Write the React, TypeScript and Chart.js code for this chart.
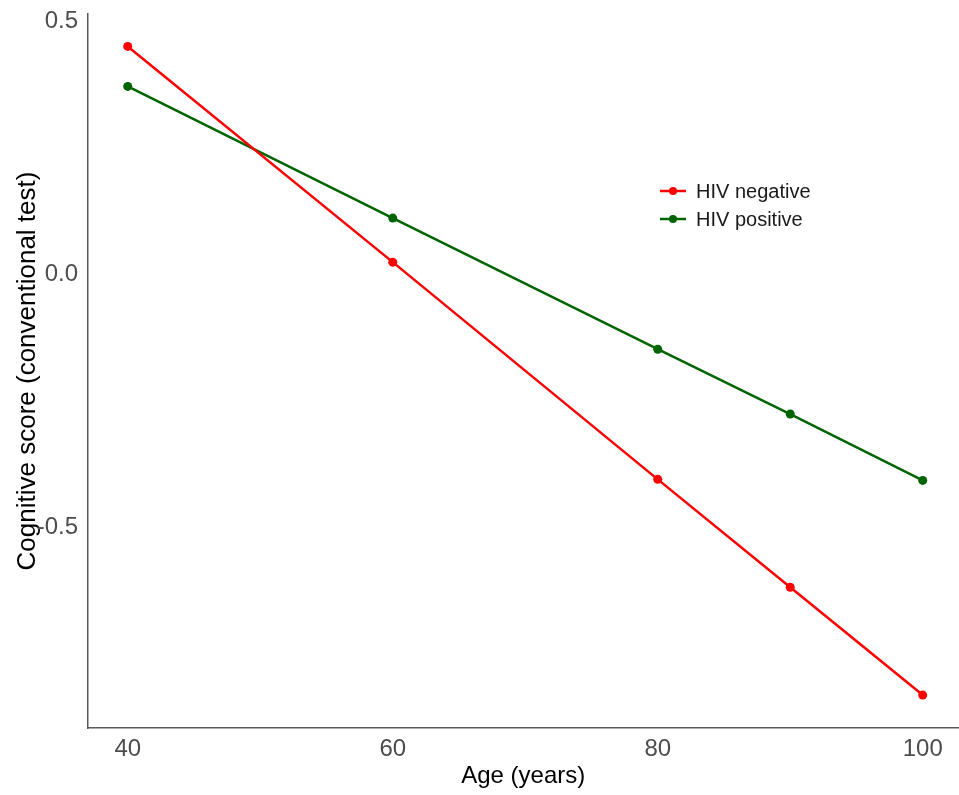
import React, { useEffect, useRef } from "react";
import { Chart, registerables } from "chart.js";

Chart.register(...registerables);

const ages = [40, 60, 80, 90, 100];
const hivNegative = [0.45, 0.024, -0.405, -0.618, -0.831];
const hivPositive = [0.371, 0.111, -0.148, -0.276, -0.407];
const seriesNames = ["HIV negative", "HIV positive"];
const seriesColors = ["#FF0000", "#006400"];
const xTicks = [40, 60, 80, 100];
const yTicks = [-0.5, 0, 0.5];
const xTitle = "Age (years)";
const yTitle = "Cognitive score (conventional test)";

const FONT = "Arial, 'Liberation Sans', Helvetica, sans-serif";

const legendPlugin = {
  id: "customLegend",
  afterDraw(chart: any) {
    const ctx = chart.ctx;
    ctx.save();
    chart.data.datasets.forEach((ds: any, i: number) => {
      const y = 191 + i * 28;
      ctx.strokeStyle = ds.borderColor;
      ctx.lineWidth = 2.5;
      ctx.beginPath();
      ctx.moveTo(660, y);
      ctx.lineTo(686, y);
      ctx.stroke();
      ctx.fillStyle = ds.borderColor;
      ctx.beginPath();
      ctx.arc(673, y, 4, 0, Math.PI * 2);
      ctx.fill();
      ctx.fillStyle = "#1a1a1a";
      ctx.font = `20px ${FONT}`;
      ctx.textBaseline = "middle";
      ctx.textAlign = "left";
      ctx.fillText(ds.label, 696, y + 1);
    });
    ctx.restore();
  },
};

const zeroPad = (s: any) => {
  s.paddingTop = 0;
  s.paddingBottom = 0;
  s.paddingLeft = 0;
  s.paddingRight = 0;
};

export default function App() {
  const ref = useRef<HTMLCanvasElement>(null);
  useEffect(() => {
    if (!ref.current) return;
    const mk = (vals: number[]) => ages.map((a, i) => ({ x: a, y: vals[i] }));
    const chart = new Chart(ref.current, {
      type: "line",
      data: {
        datasets: [hivNegative, hivPositive].map((vals, i) => ({
          label: seriesNames[i],
          data: mk(vals),
          borderColor: seriesColors[i],
          backgroundColor: seriesColors[i],
          borderWidth: 2.5,
          pointRadius: 4.5,
          pointHoverRadius: 4.5,
          pointBorderWidth: 0,
          tension: 0,
          fill: false,
        })),
      },
      options: {
        responsive: false,
        animation: false,
        layout: { padding: { top: 14, right: 1, left: 0, bottom: 0 } },
        plugins: { legend: { display: false }, tooltip: { enabled: false } },
        scales: {
          x: {
            type: "linear",
            min: 37,
            max: 102.7,
            grid: { display: false, drawTicks: false },
            border: { display: true, color: "#595959", width: 1.5 },
            afterBuildTicks: (s: any) => {
              s.ticks = xTicks.map((v) => ({ value: v }));
            },
            afterFit: (s: any) => {
              s.height = 67;
              zeroPad(s);
            },
            ticks: {
              color: "#4D4D4D",
              font: { family: FONT, size: 24 },
              padding: 7,
              maxRotation: 0,
              callback: (v: any) => String(v),
            },
            title: {
              display: true,
              text: xTitle,
              color: "#000000",
              font: { family: FONT, size: 24 },
              padding: { top: 0, bottom: 4 },
            },
          },
          y: {
            type: "linear",
            min: -0.896,
            max: 0.514,
            grid: { display: false, drawTicks: false },
            border: { display: true, color: "#595959", width: 1.5 },
            afterBuildTicks: (s: any) => {
              s.ticks = yTicks.map((v) => ({ value: v }));
            },
            afterFit: (s: any) => {
              s.width = 88;
              zeroPad(s);
            },
            ticks: {
              color: "#4D4D4D",
              font: { family: FONT, size: 24 },
              padding: 10,
              callback: (v: any) => Number(v).toFixed(1),
            },
            title: {
              display: true,
              text: yTitle,
              color: "#000000",
              font: { family: FONT, size: 26 },
              padding: { top: 12, bottom: 0 },
            },
          },
        },
      },
      plugins: [legendPlugin],
    });
    return () => chart.destroy();
  }, []);
  return (
    <div
      style={{
        position: "fixed",
        left: 0,
        top: 0,
        width: 959,
        height: 795,
        overflow: "hidden",
        background: "#fff",
      }}
    >
      <div style={{ width: 963, height: 795 }}>
        <canvas
          ref={ref}
          width={963}
          height={795}
          style={{ display: "block", width: "963px", height: "795px" }}
        />
      </div>
    </div>
  );
}
